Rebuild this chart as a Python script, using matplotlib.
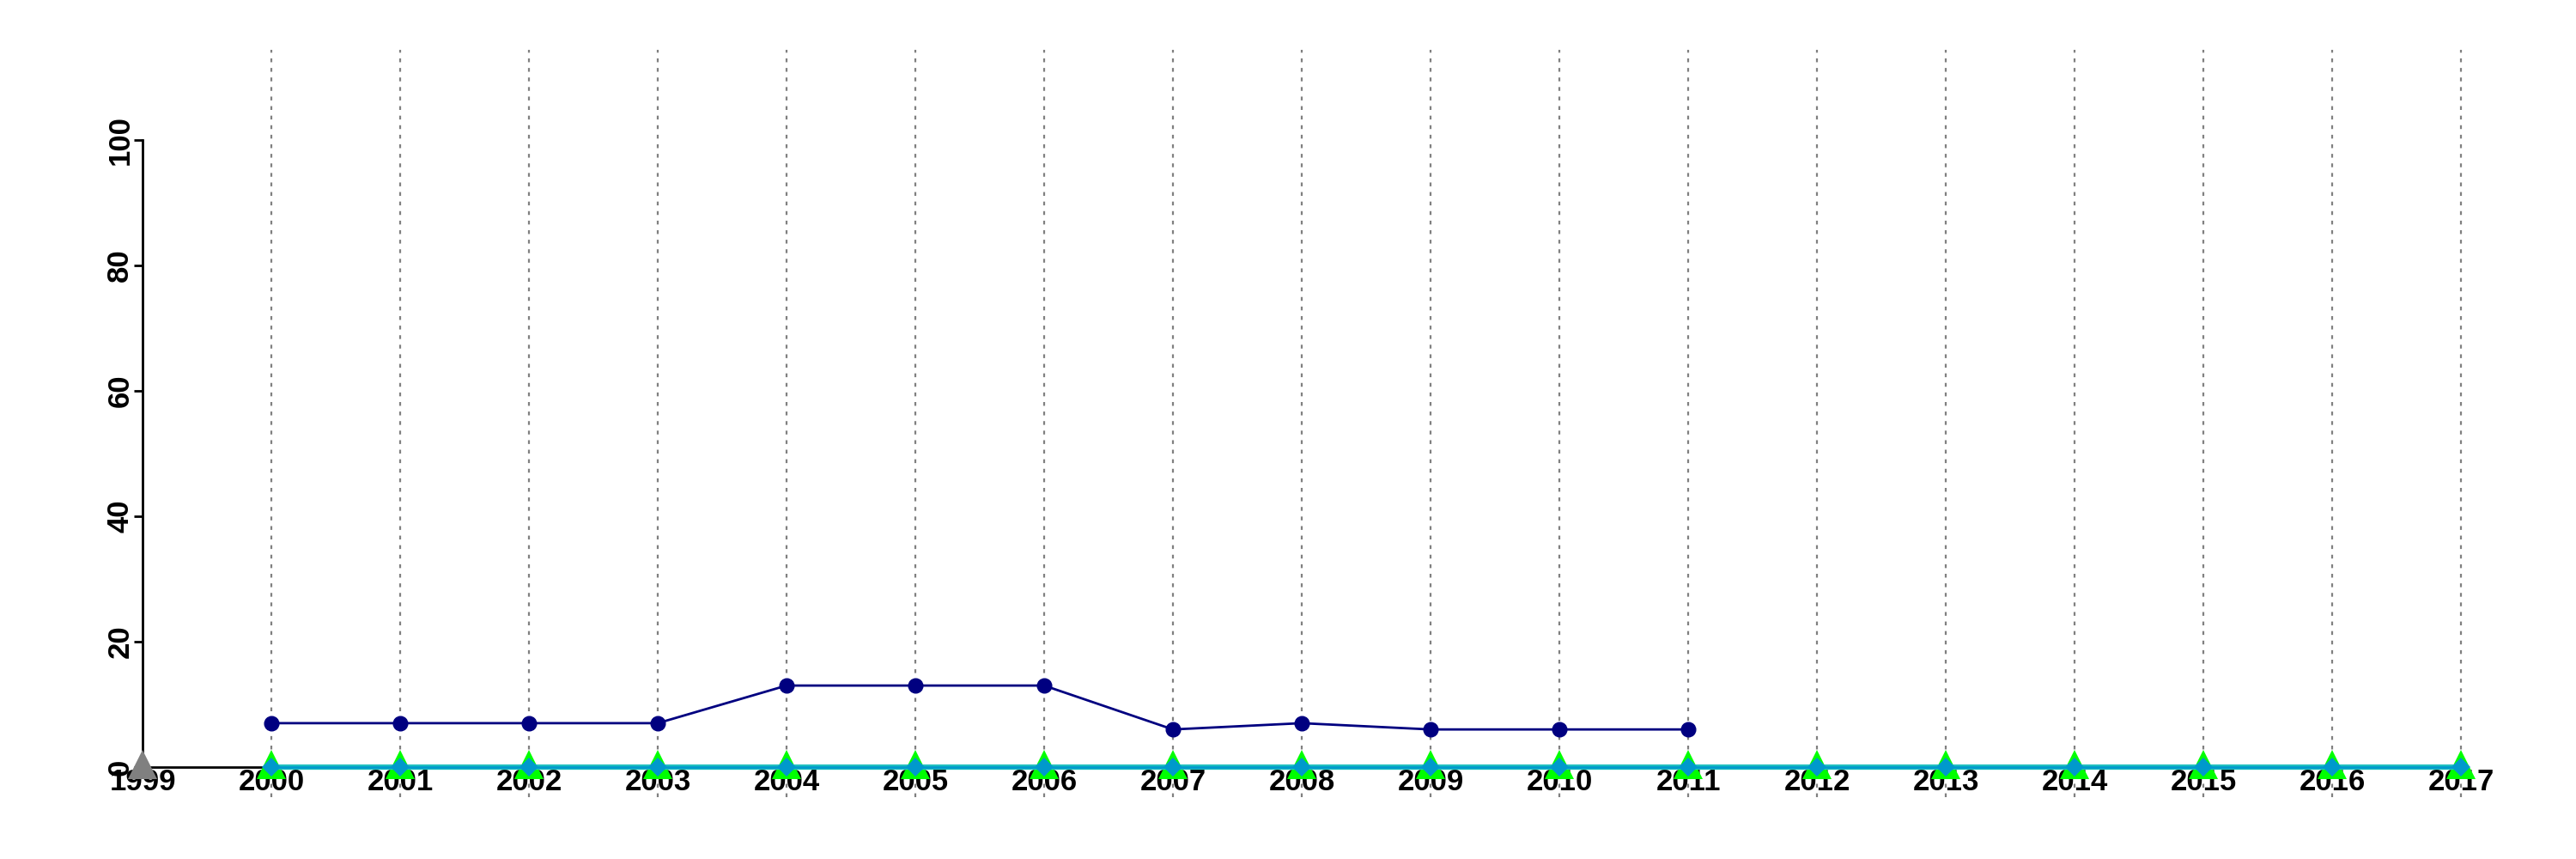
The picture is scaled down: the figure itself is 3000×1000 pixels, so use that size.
import numpy as np
import matplotlib
matplotlib.use("Agg")
import matplotlib.pyplot as plt
from matplotlib.transforms import offset_copy

plt.rcParams['font.family'] = ['Liberation Sans', 'DejaVu Sans']
plt.rcParams['font.weight'] = 'bold'

# data
years = list(range(1999, 2018))
line_years = list(range(2000, 2012))
line_vals = [7, 7, 7, 7, 13, 13, 13, 6, 7, 6, 6, 6]
zero_years = list(range(2000, 2018))
zero_vals = [0] * len(zero_years)
start_year = [1999]
start_val = [0]
y_ticks = [0, 20, 40, 60, 80, 100]

fig = plt.figure(figsize=(30, 10), dpi=100)
ax = fig.add_axes([166 / 3000, 1 - 928 / 1000, (2990 - 166) / 3000, (928 - 58) / 1000])
ax.set_xlim(1999, 1999 + (2990 - 166) / 150)
ax.set_ylim(-4.8, 114.4)

# triangles sit a little above their point, like R's pch 17
tri_trans = offset_copy(ax.transData, fig=fig, x=0, y=3, units='dots')

# dotted year guides
for yr in zero_years:
    ax.axvline(yr, color='grey', linestyle=(0, (2, 3)), linewidth=1.6, zorder=1)

ax.plot(line_years, line_vals, color='#000080', linewidth=2, marker='o',
        markersize=12, zorder=4)

ax.plot(zero_years, zero_vals, color='#00FF00', linestyle='none', marker='^',
        markersize=25, markeredgewidth=0, zorder=3, transform=tri_trans)
ax.plot(zero_years, zero_vals, color='#20C0C0', linewidth=4.5, zorder=4)
ax.plot(zero_years, zero_vals, color='#0099CC', linewidth=2, marker='D',
        markersize=11.5, markeredgewidth=0, zorder=5)
ax.plot(start_year, start_val, color='grey', linestyle='none', marker='^',
        markersize=25, markeredgewidth=0, zorder=5, clip_on=False,
        transform=tri_trans)

for s in ['top', 'right']:
    ax.spines[s].set_visible(False)
ax.spines['left'].set_bounds(0, 100)
ax.spines['left'].set_linewidth(2)
ax.spines['bottom'].set_position(('data', 0))
ax.spines['bottom'].set_bounds(1999, 2017)
ax.spines['bottom'].set_linewidth(2)

ax.set_yticks(y_ticks)
ax.set_yticklabels([str(v) for v in y_ticks], rotation=90, va='center',
                   fontsize=25, fontweight='bold')
ax.tick_params(axis='y', length=7, width=2, pad=0)

ax.set_xticks(years)
ax.set_xticklabels([str(v) for v in years], fontsize=25, fontweight='bold')
ax.tick_params(axis='x', length=0, pad=1)

fig.savefig('out.png', dpi=100)
